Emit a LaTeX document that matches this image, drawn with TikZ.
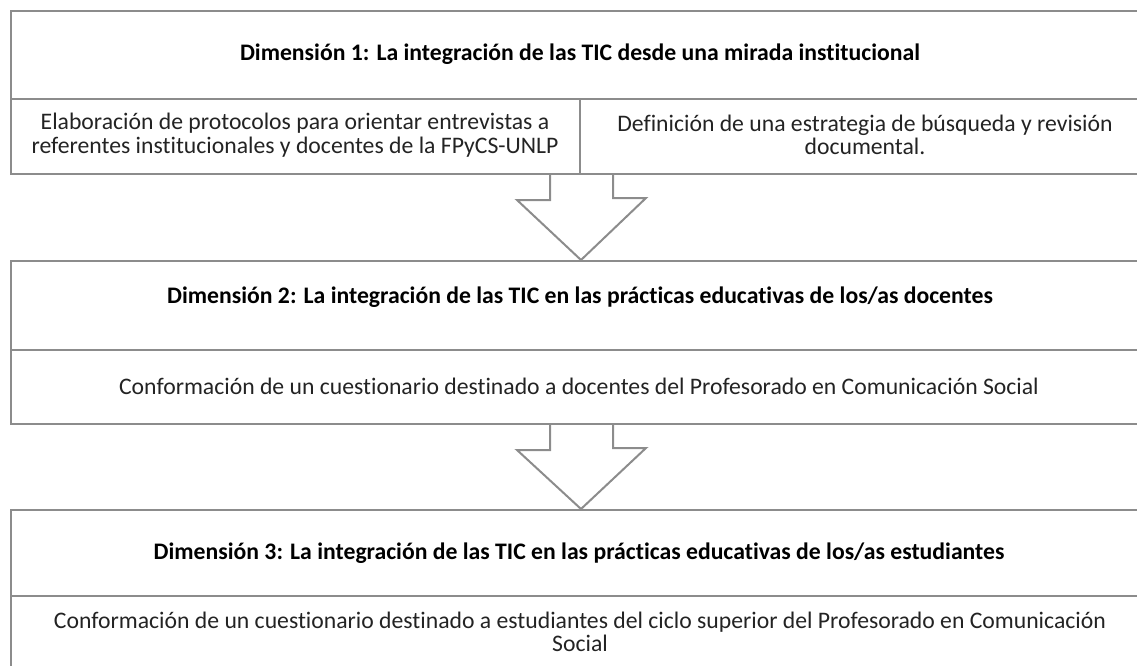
\documentclass[tikz,border=0pt]{standalone}
\usepackage{fontspec}
\setmainfont{Carlito}[Ligatures=NoCommon]
\usetikzlibrary{calc}
\definecolor{frame}{RGB}{140,140,140}
\definecolor{ink}{RGB}{35,35,35}
\begin{document}
\begin{tikzpicture}[x=1pt,y=-1pt,
  cell/.style={draw=frame,line width=2pt,rectangle,inner sep=0pt,anchor=north west},
  ttl/.style={font=\fontsize{23.7}{24}\selectfont\bfseries,text=black,inner sep=0pt},
  body/.style={font=\fontsize{23.7}{23.5}\selectfont,text=ink,align=center,inner sep=0pt},
  blockarrow/.style={draw=frame,line width=2pt,line join=miter}]
\useasboundingbox (0,0) rectangle (1137,666);
\clip (0,0) rectangle (1137,666);
% box 1
\node[cell, minimum width=1153pt, minimum height=88pt] (r1) at (10,10) {};
\node[cell, minimum width=569pt, minimum height=75pt] (r1l) at (10,98) {};
\node[cell, minimum width=584pt, minimum height=75pt] (r1r) at (579,98) {};
% box 2
\node[cell, minimum width=1153pt, minimum height=89pt] (r2) at (10,260) {};
\node[cell, minimum width=1153pt, minimum height=74pt] (r2b) at (10,349) {};
% box 3
\node[cell, minimum width=1153pt, minimum height=86pt] (r3) at (10,509) {};
\node[cell, minimum width=1153pt, minimum height=100pt] (r3b) at (10,595) {};
% texts
\node[ttl] (t1) at (580,54) {Dimensión 1: La integración de las TIC desde una mirada institucional};
\node[body] (c1l) at (295,135) {Elaboración de protocolos para orientar entrevistas a\\referentes institucionales y docentes de la FPyCS-UNLP};
\node[body] (c1r) at (865,135) {Definición de una estrategia de búsqueda y revisión\\documental.};
\node[ttl] (t2) at (580,297) {Dimensión 2: La integración de las TIC en las prácticas educativas de los/as docentes};
\node[body] (c2) at (579,386) {Conformación de un cuestionario destinado a docentes del Profesorado en Comunicación Social};
\node[ttl] (t3) at (579,553) {Dimensión 3: La integración de las TIC en las prácticas educativas de los/as estudiantes};
\node[body] (c3) at (580,632) {Conformación de un cuestionario destinado a estudiantes del ciclo superior del Profesorado en Comunicación\\Social};
% arrows
\coordinate (tip1) at (r1l.south east |- r2.north west);
\coordinate (tip2) at (r1l.south east |- r3.north west);
\draw[blockarrow] (r1l.south east) ++(-31,0) -- ++(0,25) -- ++(-33,0) -- (tip1)
  -- ++(65,-62) -- ++(-33,0) -- ($(r1l.south east)+(32,0)$);
\draw[blockarrow] (r1l.south east |- r2b.south west) ++(-31,0) -- ++(0,25) -- ++(-33,0) -- (tip2)
  -- ++(65,-61) -- ++(-33,0) -- ($(r1l.south east |- r2b.south west)+(32,0)$);
\end{tikzpicture}
\end{document}
